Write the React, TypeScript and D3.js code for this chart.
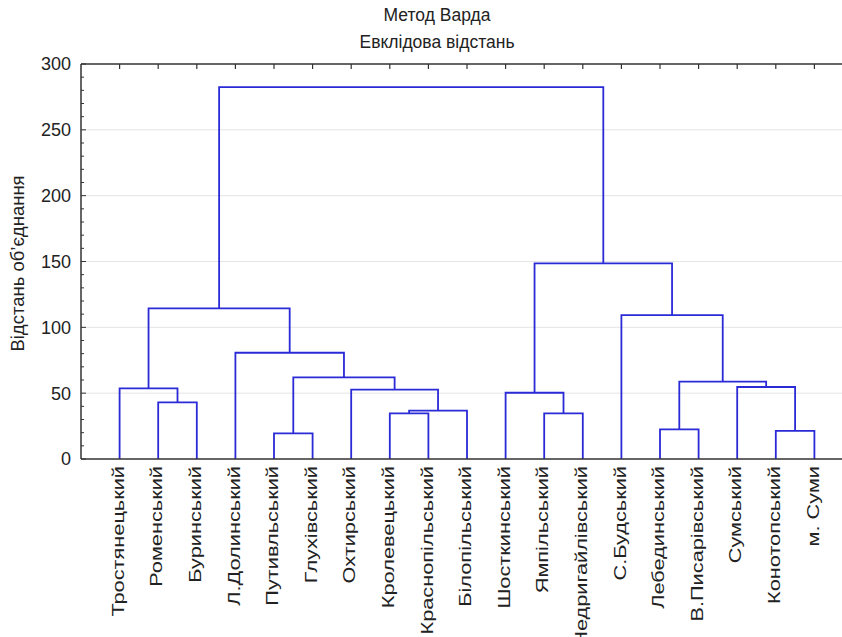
import * as d3 from 'd3'
import { useEffect, useRef } from 'react'

const leaves = [
  'Тростянецький', 'Роменський', 'Буринський', 'Л.Долинський', 'Путивльський',
  'Глухівський', 'Охтирський', 'Кролевецький', 'Краснопільський', 'Білопільський',
  'Шосткинський', 'Ямпільський', 'Недригайлівський', 'С.Будський', 'Лебединський',
  'В.Писарівський', 'Сумський', 'Конотопський', 'м. Суми'
]

// [left child, right child, merge distance]; new nodes are numbered from leaves.length
const merges: [number, number, number][] = [
  [1, 2, 43],
  [0, 19, 53.7],
  [4, 5, 19.5],
  [7, 8, 34.7],
  [22, 9, 36.7],
  [6, 23, 52.7],
  [21, 24, 62],
  [3, 25, 80.7],
  [20, 26, 114.4],
  [11, 12, 34.7],
  [10, 28, 50.3],
  [14, 15, 22.5],
  [17, 18, 21.3],
  [16, 31, 54.7],
  [30, 32, 58.7],
  [13, 33, 109.3],
  [29, 34, 148.6],
  [27, 35, 282.5]
]

const yTicks = [0, 50, 100, 150, 200, 250, 300]

export default function App() {
  const ref = useRef<SVGSVGElement>(null)

  useEffect(() => {
    const W = 842
    const H = 637
    const left = 81
    const top = 64
    const bottom = 459

    const svg = d3.select(ref.current)
    svg.selectAll('*').remove()
    svg.attr('width', W).attr('height', H)

    const font = 'Liberation Sans, Arial, sans-serif'
    const x = d3.scaleLinear().domain([0, 20]).range([left, left + 38.6 * 20])
    const y = d3.scaleLinear().domain([0, 300]).range([bottom, top])

    // grid
    svg.append('g')
      .selectAll('line')
      .data(yTicks.filter((d) => d > 0 && d < 300))
      .enter()
      .append('line')
      .attr('x1', left)
      .attr('x2', W)
      .attr('y1', (d) => y(d))
      .attr('y2', (d) => y(d))
      .attr('stroke', '#e4e4e4')
      .attr('stroke-width', 1)

    // node positions
    const pos: { x: number; h: number }[] = leaves.map((_, i) => ({ x: x(i + 1), h: 0 }))
    merges.forEach(([a, b, h]) => {
      pos.push({ x: (pos[a].x + pos[b].x) / 2, h })
    })

    const g = svg.append('g')
    merges.forEach(([a, b, h]) => {
      const p = d3.path()
      p.moveTo(pos[a].x, y(pos[a].h))
      p.lineTo(pos[a].x, y(h))
      p.lineTo(pos[b].x, y(h))
      p.lineTo(pos[b].x, y(pos[b].h))
      g.append('path')
        .attr('d', p.toString())
        .attr('fill', 'none')
        .attr('stroke', '#2a2ad6')
        .attr('stroke-width', 1.8)
    })

    // frame: left, bottom, top
    const ax = svg.append('g').attr('stroke', '#333').attr('stroke-width', 1.5)
    ax.append('line').attr('x1', left).attr('x2', W).attr('y1', bottom).attr('y2', bottom)
    ax.append('line').attr('x1', left).attr('x2', W).attr('y1', top).attr('y2', top)
    ax.append('line').attr('x1', left).attr('x2', left).attr('y1', top).attr('y2', bottom)

    // top ticks at leaf positions
    svg.append('g')
      .selectAll('line')
      .data(leaves)
      .enter()
      .append('line')
      .attr('x1', (_, i) => x(i + 1))
      .attr('x2', (_, i) => x(i + 1))
      .attr('y1', top)
      .attr('y2', top + 5)
      .attr('stroke', '#333')
      .attr('stroke-width', 1.2)

    // y minor ticks
    svg.append('g')
      .selectAll('line')
      .data(d3.range(0, 301, 10))
      .enter()
      .append('line')
      .attr('x1', left)
      .attr('x2', (d) => left + (d % 50 === 0 ? 5 : 3))
      .attr('y1', (d) => y(d))
      .attr('y2', (d) => y(d))
      .attr('stroke', '#333')
      .attr('stroke-width', 1)

    // y tick labels
    svg.append('g')
      .selectAll('text')
      .data(yTicks)
      .enter()
      .append('text')
      .attr('x', 71)
      .attr('y', (d) => y(d))
      .attr('dy', '0.36em')
      .attr('text-anchor', 'end')
      .attr('font-family', font)
      .attr('font-size', 18)
      .attr('fill', '#222')
      .text((d) => d)

    // leaf labels (stretched along their length like the source picture)
    svg.append('g')
      .selectAll('text')
      .data(leaves)
      .enter()
      .append('text')
      .attr('transform', (_, i) => `translate(${x(i + 1) - 2},466) rotate(-90) scale(1.28,1)`)
      .attr('dy', '0.36em')
      .attr('text-anchor', 'end')
      .attr('font-family', font)
      .attr('font-size', 17)
      .attr('fill', '#222')
      .text((d) => d)

    // titles
    svg.append('text')
      .attr('x', 437)
      .attr('y', 21)
      .attr('text-anchor', 'middle')
      .attr('font-family', font)
      .attr('font-size', 17.5)
      .attr('fill', '#222')
      .text('Метод Варда')
    svg.append('text')
      .attr('x', 437)
      .attr('y', 48)
      .attr('text-anchor', 'middle')
      .attr('font-family', font)
      .attr('font-size', 17.5)
      .attr('fill', '#222')
      .text('Евклідова відстань')

    svg.append('text')
      .attr('transform', `translate(24,${(top + bottom) / 2 + 2}) rotate(-90)`)
      .attr('text-anchor', 'middle')
      .attr('font-family', font)
      .attr('font-size', 18.5)
      .attr('fill', '#222')
      .text('Відстань об’єднання')
  }, [])

  return (
    <svg ref={ref} style={{ position: 'absolute', left: 0, top: 0, background: '#fff' }}></svg>
  )
}
